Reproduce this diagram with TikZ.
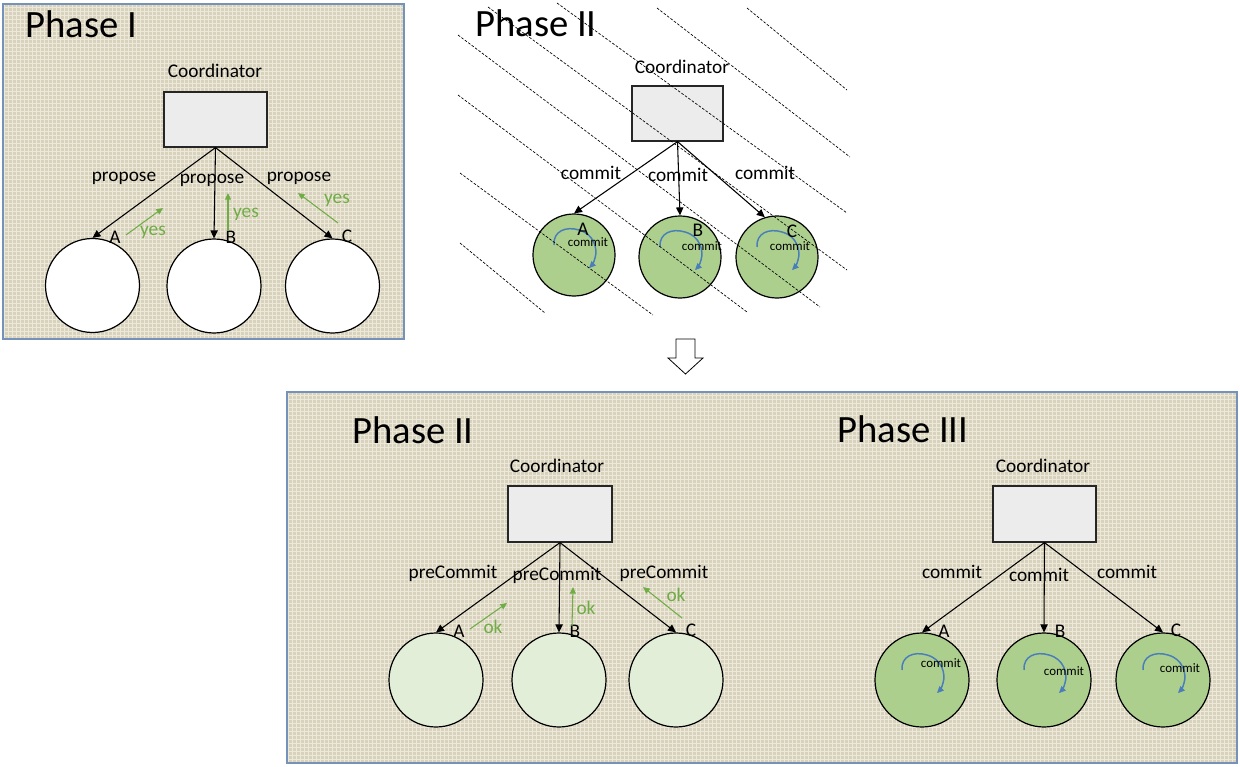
\documentclass[tikz,border=0pt]{standalone}
\usepackage{fontspec}
\setmainfont{Carlito}
\usetikzlibrary{arrows.meta,patterns}
\definecolor{panel}{RGB}{216,209,188}
\definecolor{weave}{RGB}{236,232,218}
\definecolor{panelborder}{RGB}{116,146,186}
\definecolor{boxgray}{RGB}{236,236,236}
\definecolor{nodegreen}{RGB}{172,207,142}
\definecolor{lightgreen}{RGB}{227,238,217}
\definecolor{okgreen}{RGB}{112,173,71}
\definecolor{loopblue}{RGB}{74,126,187}
\begin{document}
\begin{tikzpicture}[x=0.75pt,y=-0.75pt,
  panelbox/.style={fill=panel, draw=panelborder, line width=1.2pt},
  texture/.style={pattern=grid, pattern color=weave},
  coordbox/.style={draw=black!85, fill=boxgray, line width=0.9pt, inner sep=0pt},
  bignode/.style={circle, draw=black, line width=0.9pt, fill=white, minimum size=70.5pt, inner sep=0pt},
  smallnode/.style={circle, draw=black, line width=0.9pt, fill=nodegreen, minimum size=61.5pt, inner sep=0pt},
  lbl/.style={font=\fontsize{14.5}{17}\selectfont, inner sep=0pt},
  small/.style={font=\fontsize{9.7}{11}\selectfont, inner sep=0pt},
  title/.style={font=\fontsize{29}{33}\selectfont, inner sep=0pt, anchor=base west},
  conn/.style={draw=black, line width=0.8pt, -{Triangle[length=6pt,width=5.5pt]}},
  okarrow/.style={draw=okgreen, line width=0.8pt, -{Triangle[length=5pt,width=4.5pt]}},
  oklbl/.style={font=\fontsize{14.5}{17}\selectfont, text=okgreen, inner sep=0pt},
  hatch/.style={draw=black, line width=0.5pt, dash pattern=on 2pt off 1.2pt},
  pics/loop/.style={code={
    \draw[loopblue, line width=1.1pt, -{Triangle[length=5pt,width=4.5pt]}]
      (-20,-10) .. controls (-21,-24) and (-8,-29) .. (5,-25)
      .. controls (20,-21) and (24,-6) .. (21,3)
      .. controls (20,8) and (17,11) .. (15,13);
  }}
]
\useasboundingbox (0,0) rectangle (1240,767);
\fill[white] (0,0) rectangle (1240,767);

% ---------------- Phase I panel ----------------
\fill[panel] (3,4) rectangle (404,339);
\fill[texture] (3,4) rectangle (404,339);
\draw[panelborder, line width=1.2pt] (3,4) rectangle (404,339);
\node[title] (t1) at (25,38) {Phase I};
\node[lbl] (cl1) at (215,71) {Coordinator};
\node[coordbox, minimum width=77.25pt, minimum height=41.25pt] (co1) at (215.5,119.5) {};
\node[bignode] (a1) at (92.5,285.5) {};
\node[bignode] (b1) at (214,286) {};
\node[bignode] (c1) at (332.5,286) {};
\draw[conn] (co1.south) -- (a1.north);
\draw[conn] (co1.south) -- (b1.north);
\draw[conn] (co1.south) -- (c1.north);
\node[lbl] (pa1) at (124,178) {propose};
\node[lbl] (pb1) at (212,180) {propose};
\node[lbl] (pc1) at (299,178) {propose};
\node[lbl] (la1) at (115,237) {A};
\node[lbl] (lb1) at (231,237) {B};
\node[lbl] (lc1) at (347,236) {C};
\coordinate (ya1s) at (126,235); \coordinate (ya1e) at (163,208);
\coordinate (yb1s) at (228,231); \coordinate (yb1e) at (228,193);
\coordinate (yc1s) at (338,223); \coordinate (yc1e) at (298,193);
\draw[okarrow] (ya1s) -- (ya1e);
\draw[okarrow] (yb1s) -- (yb1e);
\draw[okarrow] (yc1s) -- (yc1e);
\node[oklbl] (ya1) at (153,232) {yes};
\node[oklbl] (yb1) at (246,214) {yes};
\node[oklbl] (yc1) at (337,200) {yes};

% ---------------- Phase II (top, aborted) ----------------
\node[title] (t2) at (475,37) {Phase II};
\node[lbl] (cl2) at (682,67) {Coordinator};
\node[coordbox, minimum width=68.25pt, minimum height=41.25pt] (co2) at (677.5,113.5) {};
\node[smallnode] (a2) at (574,255) {};
\node[smallnode] (b2) at (680,257) {};
\node[smallnode] (c2) at (777,257) {};
\draw[conn] (co2.south) -- (a2.north);
\draw[conn] (co2.south) -- (b2.north);
\draw[conn] (co2.south) -- (c2.107);
\node[lbl] (ma2) at (591,173) {commit};
\node[lbl] (mb2) at (678,175) {commit};
\node[lbl] (mc2) at (765,173) {commit};
\pic at (a2) {loop};
\pic at (b2) {loop};
\pic at (c2) {loop};
\node[lbl] (la2) at (583,229) {A};
\node[lbl] (lb2) at (698,230) {B};
\node[lbl] (lc2) at (792,231) {C};
\node[small] (ia2) at (588,242) {commit};
\node[small] (ib2) at (702,246) {commit};
\node[small] (ic2) at (790,246) {commit};
% hatch lines
\draw[hatch] (747,8) -- (847,90);
\draw[hatch] (657,8) -- (850,157);
\draw[hatch] (557,3) -- (847,213);
\draw[hatch] (488,7) -- (847,270);
\draw[hatch] (458,35) -- (820,307);
\draw[hatch] (458,95) -- (747,312);
\draw[hatch] (460,173) -- (653,315);
\draw[hatch] (460,243) -- (545,313);

% ---------------- block arrow ----------------
\draw[black, line width=0.6pt, fill=white]
  (676,339) -- (695,339) -- (695,358) -- (703,358) -- (685.5,374) -- (668,358) -- (676,358) -- cycle;

% ---------------- bottom panel ----------------
\fill[panel] (287,392) rectangle (1237,763);
\fill[texture] (287,392) rectangle (1237,763);
\draw[panelborder, line width=1.2pt] (287,392) rectangle (1237,763);

% Phase II (3PC)
\node[title] (t3) at (352,443) {Phase II};
\node[lbl] (cl3) at (557,466) {Coordinator};
\node[coordbox, minimum width=78pt, minimum height=42pt] (co3) at (560,514) {};
\node[bignode, fill=lightgreen] (a3) at (436,680) {};
\node[bignode, fill=lightgreen] (b3) at (559,680) {};
\node[bignode, fill=lightgreen] (c3) at (676,680) {};
\draw[conn] (co3.south) -- (a3.north);
\draw[conn] (co3.south) -- (b3.north);
\draw[conn] (co3.south) -- (c3.north);
\node[lbl] (pa3) at (453,573) {preCommit};
\node[lbl] (pb3) at (557,575) {preCommit};
\node[lbl] (pc3) at (664,573) {preCommit};
\node[lbl] (la3) at (459,631) {A};
\node[lbl] (lb3) at (575,631) {B};
\node[lbl] (lc3) at (691,630) {C};
\coordinate (oa3s) at (470,629); \coordinate (oa3e) at (507,603);
\coordinate (ob3s) at (572,626); \coordinate (ob3e) at (573,587);
\coordinate (oc3s) at (682,618); \coordinate (oc3e) at (643,587);
\draw[okarrow] (oa3s) -- (oa3e);
\draw[okarrow] (ob3s) -- (ob3e);
\draw[okarrow] (oc3s) -- (oc3e);
\node[oklbl] (oka3) at (493,627) {ok};
\node[oklbl] (okb3) at (586,608) {ok};
\node[oklbl] (okc3) at (676,595) {ok};

% Phase III
\node[title] (t4) at (837,442) {Phase III};
\node[lbl] (cl4) at (1043,466) {Coordinator};
\node[coordbox, minimum width=77.25pt, minimum height=42pt] (co4) at (1044.5,514) {};
\node[bignode, fill=nodegreen] (a4) at (922,680) {};
\node[bignode, fill=nodegreen] (b4) at (1044,680) {};
\node[bignode, fill=nodegreen] (c4) at (1163,680) {};
\draw[conn] (co4.south) -- (a4.north);
\draw[conn] (co4.south) -- (b4.north);
\draw[conn] (co4.south) -- (c4.north);
\node[lbl] (ma4) at (952,572) {commit};
\node[lbl] (mb4) at (1039,575) {commit};
\node[lbl] (mc4) at (1127,572) {commit};
\node[lbl] (la4) at (944,631) {A};
\node[lbl] (lb4) at (1060,631) {B};
\node[lbl] (lc4) at (1176,630) {C};
\pic at (a4) {loop};
\pic at (b4) {loop};
\pic at (c4) {loop};
\node[small] (ia4) at (941,663) {commit};
\node[small] (ib4) at (1064,671) {commit};
\node[small] (ic4) at (1180,668) {commit};
\end{tikzpicture}
\end{document}
